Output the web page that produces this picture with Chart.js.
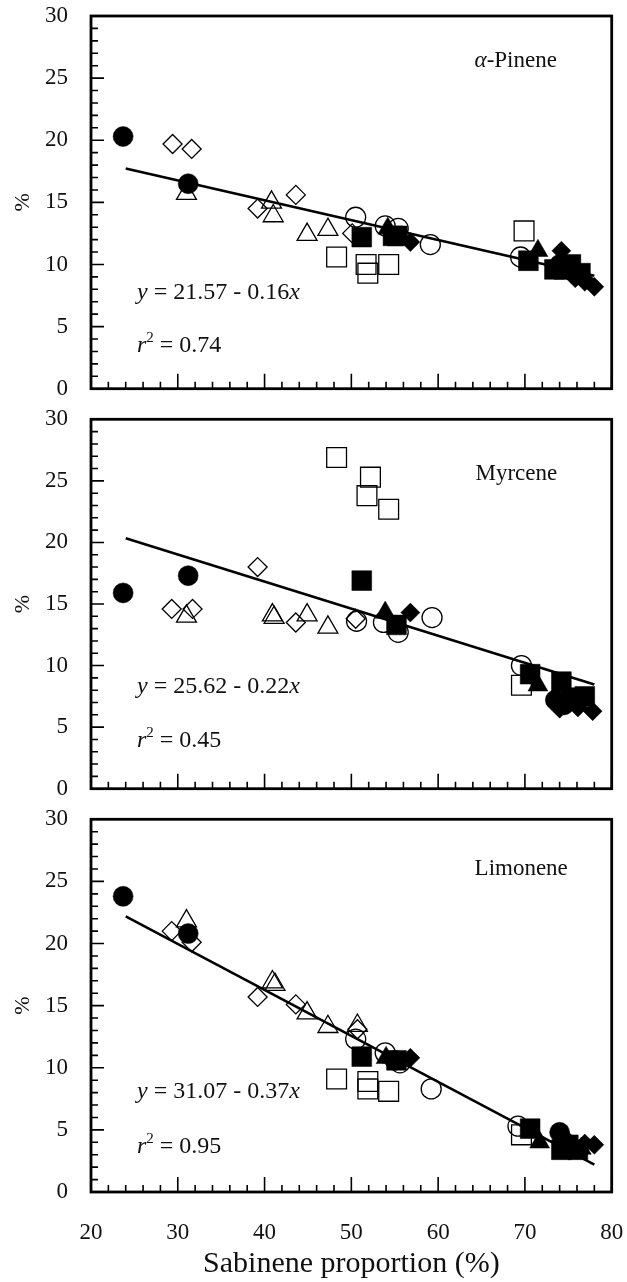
<!DOCTYPE html>
<html>
<head>
<meta charset="utf-8">
<script src="https://cdn.jsdelivr.net/npm/chart.js@4.4.0/dist/chart.umd.min.js"></script>
<style>
  body { margin: 0; background: #fff; width: 627px; height: 1282px; position: relative; overflow: hidden; }
  canvas { position: absolute; left: 0; }
</style>
</head>
<body>
<canvas id="pineneChart" width="627" height="404" style="top:0px"></canvas>
<canvas id="myrceneChart" width="627" height="400" style="top:404px"></canvas>
<canvas id="limoneneChart" width="627" height="478" style="top:804px"></canvas>
<script>
// axis ranges / ticks
const xRange = [20, 80];
const yRange = [0, 30];
const xLabel = "Sabinene proportion (%)";
const yLabel = "%";

// alpha-pinene panel, [sabinene %, compound %]
const pinFilledCircle = [[23.7, 20.3], [31.2, 16.5], [74.0, 10.0], [75.0, 9.6]];
const pinOpenCircle = [[50.5, 13.8], [53.9, 13.1], [55.4, 12.9], [59.1, 11.6], [69.5, 10.6]];
const pinFilledSquare = [[51.2, 12.2], [54.8, 12.3], [55.3, 12.3], [70.4, 10.3], [73.4, 9.6], [75.3, 10.0], [76.4, 9.3], [74.5, 9.6]];
const pinOpenSquare = [[48.3, 10.6], [51.7, 10.0], [51.9, 9.3], [54.3, 10.0], [69.9, 12.7]];
const pinFilledTriangle = [[54.2, 12.9], [71.5, 11.1], [77.0, 9.0]];
const pinOpenTriangle = [[31.0, 15.7], [40.8, 15.0], [41.0, 13.9], [44.9, 12.4], [47.3, 12.8]];
const pinFilledDiamond = [[56.8, 11.8], [74.2, 11.1], [75.8, 8.9], [78.0, 8.2], [76.9, 8.6]];
const pinOpenDiamond = [[29.4, 19.7], [31.6, 19.3], [39.2, 14.5], [43.6, 15.6], [50.1, 12.5]];
const pinFit = [[24, 17.73], [78, 9.09]];

// myrcene panel
const myrFilledCircle = [[23.7, 15.9], [31.2, 17.3], [73.5, 7.2], [74.5, 6.8]];
const myrOpenCircle = [[50.6, 13.6], [53.7, 13.5], [55.4, 12.7], [59.3, 13.9], [69.6, 10.0]];
const myrFilledSquare = [[51.2, 16.9], [55.2, 13.3], [70.6, 9.3], [74.2, 8.7], [75.3, 7.4], [76.9, 7.5]];
const myrOpenSquare = [[48.3, 26.9], [52.2, 25.3], [51.8, 23.8], [54.3, 22.7], [69.6, 8.4]];
const myrFilledTriangle = [[53.9, 14.3], [71.5, 8.4], [76.5, 7.2]];
const myrOpenTriangle = [[31.0, 14.0], [40.9, 14.1], [41.1, 13.9], [44.9, 14.1], [47.3, 13.1]];
const myrFilledDiamond = [[56.8, 14.3], [74.0, 6.5], [76.1, 6.6], [77.8, 6.3], [75.0, 7.0]];
const myrOpenDiamond = [[29.3, 14.6], [31.7, 14.6], [39.2, 18.0], [43.6, 13.5], [50.5, 13.8]];
const myrFit = [[24, 20.34], [78, 8.46]];

// limonene panel
const limFilledCircle = [[23.7, 23.8], [31.2, 20.8], [74.0, 4.8], [55.0, 10.6]];
const limOpenCircle = [[50.5, 12.3], [53.9, 11.2], [55.6, 10.4], [59.2, 8.3], [69.2, 5.3]];
const limFilledSquare = [[51.2, 10.9], [55.2, 10.6], [70.6, 5.1], [74.2, 3.4], [76.1, 3.4], [75.0, 3.8]];
const limOpenSquare = [[48.3, 9.1], [51.9, 8.9], [51.9, 8.3], [54.3, 8.1], [69.6, 4.6]];
const limFilledTriangle = [[54.0, 10.8], [71.7, 4.0], [76.5, 3.5]];
const limOpenTriangle = [[31.0, 21.8], [40.9, 16.9], [41.2, 16.7], [44.9, 14.4], [47.3, 13.3], [50.7, 13.4]];
const limFilledDiamond = [[56.8, 10.8], [74.4, 4.5], [76.9, 3.9], [78.0, 3.8], [75.5, 3.7]];
const limOpenDiamond = [[29.3, 21.0], [31.6, 20.1], [39.2, 15.7], [43.6, 15.1], [50.7, 13.1]];
const limFit = [[24, 22.19], [78, 2.21]];

const serif = "'Liberation Serif', 'DejaVu Serif', serif";

function markerSet(points, style, radius, filled) {
  return {
    data: points.map(([x, y]) => ({ x, y })),
    pointStyle: style,
    pointRadius: radius,
    pointHoverRadius: radius,
    backgroundColor: filled ? "#000" : "rgba(0,0,0,0)",
    borderColor: "#000",
    pointBorderWidth: filled ? 0.5 : 1.3,
    showLine: false,
    order: filled ? 0 : 2,
  };
}

function fitLine(points) {
  return {
    data: points.map(([x, y]) => ({ x, y })),
    showLine: true,
    borderColor: "#000",
    borderWidth: 2.6,
    pointRadius: 0,
    pointHoverRadius: 0,
    fill: false,
    order: 1,
  };
}

// draws the box, inward ticks and the text inside each panel
const framePlugin = {
  id: "frame",
  afterDatasetsDraw(chart, args, opts) {
    const { ctx, chartArea: a } = chart;
    const xs = chart.scales.x;
    const ys = chart.scales.y;
    ctx.save();
    ctx.strokeStyle = "#000";
    ctx.lineWidth = 1.6;
    ctx.beginPath();
    for (let v = yRange[0]; v <= yRange[1]; v += 1) {
      const py = ys.getPixelForValue(v);
      const len = v % 5 === 0 ? 13 : 7;
      ctx.moveTo(a.left, py);
      ctx.lineTo(a.left + len, py);
    }
    for (let v = xRange[0]; v <= xRange[1]; v += 2) {
      const px = xs.getPixelForValue(v);
      const len = v % 10 === 0 ? 15 : 7;
      ctx.moveTo(px, a.bottom);
      ctx.lineTo(px, a.bottom - len);
    }
    ctx.stroke();
    ctx.lineWidth = 2.8;
    ctx.strokeRect(a.left, a.top, a.right - a.left, a.bottom - a.top);

    ctx.fillStyle = "#111";
    ctx.textBaseline = "alphabetic";
    const runs = (list, x, y, size) => {
      let cx = x;
      list.forEach((r) => {
        const s = r.sup ? Math.round(size * 0.62) : size;
        ctx.font = (r.it ? "italic " : "") + s + "px " + serif;
        ctx.fillText(r.t, cx, r.sup ? y - size * 0.42 : y);
        cx += ctx.measureText(r.t).width;
      });
    };
    runs(opts.title, xs.getPixelForValue(opts.titleAt[0]), ys.getPixelForValue(opts.titleAt[1]), 23);
    runs(opts.eq, xs.getPixelForValue(opts.eqAt[0]), ys.getPixelForValue(opts.eqAt[1]), 24);
    runs(opts.r2, xs.getPixelForValue(opts.r2At[0]), ys.getPixelForValue(opts.r2At[1]), 24);
    ctx.restore();
  },
};

function makePanel(id, sets, fit, text, bottom, padTop) {
  const el = document.getElementById(id);
  if (!el) return;
  const datasets = [
    markerSet(sets[0], "circle", 10, true),
    markerSet(sets[1], "circle", 10, false),
    markerSet(sets[2], "rect", 14, true),
    markerSet(sets[3], "rect", 14, false),
    markerSet(sets[4], "triangle", 11.5, true),
    markerSet(sets[5], "triangle", 11.5, false),
    markerSet(sets[6], "rectRot", 9.5, true),
    markerSet(sets[7], "rectRot", 9.5, false),
    fitLine(fit),
  ];
  return new Chart(el.getContext("2d"), {
    type: "scatter",
    data: { datasets },
    options: {
      responsive: false,
      animation: false,
      events: [],
      layout: { padding: { top: padTop, right: 13, left: 0, bottom: 0 } },
      plugins: {
        legend: { display: false },
        tooltip: { enabled: false },
        frame: text,
      },
      scales: {
        x: {
          type: "linear",
          min: xRange[0],
          max: xRange[1],
          grid: { display: false, drawTicks: false },
          border: { display: false },
          ticks: {
            display: bottom.labels,
            stepSize: 10,
            padding: 27,
            color: "#111",
            font: { family: serif, size: 23 },
          },
          title: {
            display: bottom.labels,
            text: xLabel,
            color: "#111",
            font: { family: serif, size: 30 },
            padding: { top: 0, bottom: 0 },
          },
          afterFit: (scale) => {
            scale.height = bottom.height;
            scale.paddingLeft = 0;
            scale.paddingRight = 0;
          },
        },
        y: {
          type: "linear",
          min: yRange[0],
          max: yRange[1],
          grid: { display: false, drawTicks: false },
          border: { display: false },
          ticks: {
            stepSize: 5,
            padding: 23,
            color: "#111",
            font: { family: serif, size: 23 },
          },
          title: {
            display: true,
            text: yLabel,
            color: "#111",
            font: { family: serif, size: 22 },
            padding: { top: 10, bottom: 0 },
          },
          afterFit: (scale) => {
            scale.width = 91;
            scale.paddingTop = 0;
            scale.paddingBottom = 0;
          },
        },
      },
    },
    plugins: [framePlugin],
  });
}

makePanel("pineneChart",
  [pinFilledCircle, pinOpenCircle, pinFilledSquare, pinOpenSquare, pinFilledTriangle, pinOpenTriangle, pinFilledDiamond, pinOpenDiamond],
  pinFit,
  {
    title: [{ t: "\u03b1", it: true }, { t: "-Pinene" }], titleAt: [64.2, 25.9],
    eq: [{ t: "y", it: true }, { t: " = 21.57 - 0.16" }, { t: "x", it: true }], eqAt: [25.3, 7.2],
    r2: [{ t: "r", it: true }, { t: "2", sup: true }, { t: " = 0.74" }], r2At: [25.3, 2.95],
  },
  { labels: false, height: 12 }, 16);

makePanel("myrceneChart",
  [myrFilledCircle, myrOpenCircle, myrFilledSquare, myrOpenSquare, myrFilledTriangle, myrOpenTriangle, myrFilledDiamond, myrOpenDiamond],
  myrFit,
  {
    title: [{ t: "Myrcene" }], titleAt: [64.3, 25.1],
    eq: [{ t: "y", it: true }, { t: " = 25.62 - 0.22" }, { t: "x", it: true }], eqAt: [25.3, 7.8],
    r2: [{ t: "r", it: true }, { t: "2", sup: true }, { t: " = 0.45" }], r2At: [25.3, 3.4],
  },
  { labels: false, height: 11 }, 12);

makePanel("limoneneChart",
  [limFilledCircle, limOpenCircle, limFilledSquare, limOpenSquare, limFilledTriangle, limOpenTriangle, limFilledDiamond, limOpenDiamond],
  limFit,
  {
    title: [{ t: "Limonene" }], titleAt: [64.2, 25.5],
    eq: [{ t: "y", it: true }, { t: " = 31.07 - 0.37" }, { t: "x", it: true }], eqAt: [25.3, 7.6],
    r2: [{ t: "r", it: true }, { t: "2", sup: true }, { t: " = 0.95" }], r2At: [25.3, 3.1],
  },
  { labels: true, height: 90 }, 12);
</script>
</body>
</html>
